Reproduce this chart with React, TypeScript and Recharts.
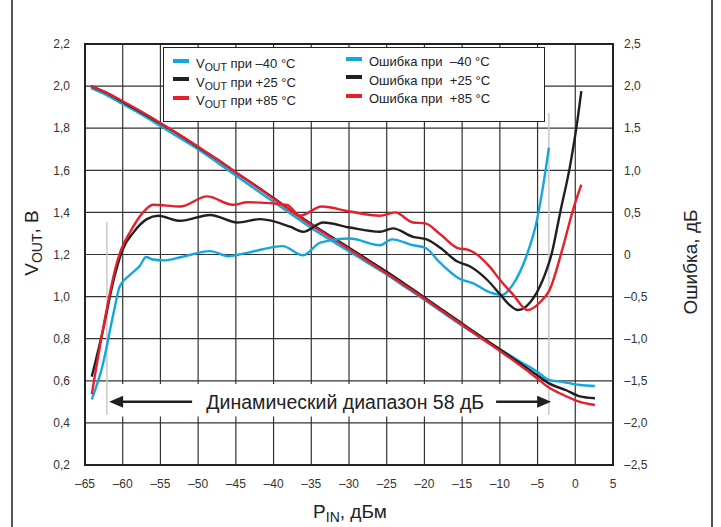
import React from 'react';
import {
  LineChart,
  Line,
  XAxis,
  YAxis,
  CartesianGrid,
  Legend,
  ReferenceLine,
  ReferenceArea,
  ReferenceDot,
} from 'recharts';

type Pt = [number, number];

const xTicks = [-65, -60, -55, -50, -45, -40, -35, -30, -25, -20, -15, -10, -5, 0, 5];
const voutTicks = [0.2, 0.4, 0.6, 0.8, 1.0, 1.2, 1.4, 1.6, 1.8, 2.0, 2.2];
const errTicks = [-2.5, -2.0, -1.5, -1.0, -0.5, 0, 0.5, 1.0, 1.5, 2.0, 2.5];

// V_OUT, В  (PIN дБм, V)
const voutM40: Pt[] = [
  [-64.2, 1.99], [-62, 1.955], [-60, 1.915], [-57.5, 1.865], [-55, 1.81], [-52.5, 1.755],
  [-50, 1.7], [-47.5, 1.638], [-45, 1.575], [-42.5, 1.512], [-40, 1.45], [-37.5, 1.388],
  [-35, 1.326], [-32.5, 1.27], [-30, 1.215], [-27.5, 1.16], [-25, 1.105], [-22.5, 1.045],
  [-20, 0.985], [-17.5, 0.923], [-15, 0.862], [-12.5, 0.805], [-10, 0.75], [-7.5, 0.695],
  [-5, 0.642], [-3.6, 0.606], [-1.6, 0.594], [0.6, 0.58], [2.6, 0.575],
];
const voutP25: Pt[] = [
  [-64.2, 2.0], [-62, 1.965], [-60, 1.925], [-57.5, 1.875], [-55, 1.822], [-52.5, 1.768],
  [-50, 1.71], [-47.5, 1.652], [-45, 1.59], [-42.5, 1.53], [-40, 1.468], [-37.5, 1.405],
  [-35, 1.345], [-32.5, 1.288], [-30, 1.232], [-27.5, 1.175], [-25, 1.118], [-22.5, 1.058],
  [-20, 0.996], [-17.5, 0.934], [-15, 0.872], [-12.5, 0.81], [-10, 0.75], [-7.5, 0.688],
  [-5, 0.625], [-3.6, 0.59], [-1.2, 0.555], [0.6, 0.526], [2.6, 0.517],
];
const voutP85: Pt[] = [
  [-64.2, 2.0], [-62, 1.967], [-60, 1.928], [-57.5, 1.878], [-55, 1.825], [-52.5, 1.77],
  [-50, 1.712], [-47.5, 1.652], [-45, 1.59], [-42.5, 1.528], [-40, 1.465], [-37.5, 1.402],
  [-35, 1.34], [-32.5, 1.283], [-30, 1.226], [-27.5, 1.168], [-25, 1.11], [-22.5, 1.05],
  [-20, 0.99], [-17.5, 0.928], [-15, 0.866], [-12.5, 0.803], [-10, 0.742], [-7.5, 0.678],
  [-5, 0.61], [-3.6, 0.57], [-1.6, 0.533], [0.6, 0.5], [2.6, 0.485],
];

// Ошибка, дБ
const errM40: Pt[] = [
  [-64.1, -1.72], [-62.7, -1.33], [-61.2, -0.69], [-60.4, -0.38], [-59.0, -0.24], [-57.7, -0.13],
  [-56.9, -0.03], [-56.0, -0.06], [-54.6, -0.07], [-52.2, -0.03], [-48.4, 0.04], [-46.0, -0.02],
  [-43.5, 0.02], [-38.8, 0.1], [-36.1, -0.01], [-33.8, 0.14], [-29.9, 0.19], [-25.9, 0.11],
  [-24.3, 0.18], [-21.5, 0.11], [-19.9, 0.08], [-17.9, -0.1], [-15.3, -0.29], [-13.6, -0.34],
  [-11.3, -0.45], [-9.7, -0.48], [-8.3, -0.36], [-6.4, 0.0], [-5.1, 0.4], [-4.2, 0.85], [-3.5, 1.27],
];
const errP25: Pt[] = [
  [-64.1, -1.45], [-62.6, -0.89], [-61.2, -0.3], [-60.0, 0.06], [-58.6, 0.26], [-56.8, 0.42],
  [-55.3, 0.46], [-52.4, 0.4], [-48.4, 0.47], [-44.8, 0.38], [-41.8, 0.42], [-37.8, 0.33],
  [-36.1, 0.27], [-33.4, 0.38], [-29.9, 0.32], [-25.9, 0.27], [-24.2, 0.31], [-21.5, 0.21],
  [-19.7, 0.18], [-17.9, 0.08], [-15.7, -0.08], [-14.0, -0.14], [-11.7, -0.3], [-10.0, -0.47],
  [-8.7, -0.6], [-7.6, -0.66], [-6.0, -0.57], [-4.3, -0.3], [-3.1, 0.02], [-2.0, 0.5],
  [-0.7, 1.05], [0.3, 1.6], [0.8, 1.94],
];
const errP85: Pt[] = [
  [-64.1, -1.66], [-62.2, -0.69], [-60.9, -0.14], [-60.2, 0.06], [-59.0, 0.27], [-57.3, 0.5],
  [-56.0, 0.59], [-52.4, 0.57], [-48.8, 0.69], [-45.4, 0.59], [-43.5, 0.62], [-38.2, 0.59],
  [-36.5, 0.46], [-33.6, 0.57], [-29.9, 0.51], [-25.9, 0.46], [-23.9, 0.5], [-21.5, 0.38],
  [-19.9, 0.37], [-17.9, 0.24], [-15.7, 0.08], [-14.0, 0.05], [-11.3, -0.15], [-10.0, -0.3],
  [-8.3, -0.47], [-6.3, -0.66], [-4.7, -0.57], [-3.4, -0.42], [-1.6, 0.1], [-0.3, 0.53], [0.8, 0.83],
];

const BLUE = '#14a6de';
const BLACK = '#231f20';
const RED = '#e5202b';
const FONT = '"Liberation Sans", Arial, sans-serif';

const rows = (pts: Pt[]) => pts.map(([x, y]) => ({ x, y }));

const voutSeries = [
  { id: 'v40', temp: '–40 °C', color: BLUE, data: rows(voutM40) },
  { id: 'v25', temp: '+25 °C', color: BLACK, data: rows(voutP25) },
  { id: 'v85', temp: '+85 °C', color: RED, data: rows(voutP85) },
];
const errSeries = [
  { id: 'e40', temp: '–40 °C', color: BLUE, data: rows(errM40) },
  { id: 'e25', temp: '+25 °C', color: BLACK, data: rows(errP25) },
  { id: 'e85', temp: '+85 °C', color: RED, data: rows(errP85) },
];

const dash = (v: number) => (v < 0 ? '–' : '');
const fmtX = (v: number) => `${dash(v)}${Math.abs(v)}`;
const fmtV = (v: number) => v.toFixed(1).replace('.', ',');
const fmtErr = (v: number) => (v === 0 ? '0' : `${dash(v)}${Math.abs(v).toFixed(1).replace('.', ',')}`);

const tickStyle = { fontSize: 12, fill: '#333', fontFamily: FONT };

const Swatch = ({ color }: { color: string }) => (
  <span style={{ display: 'inline-block', width: 16, height: 4, background: color, marginRight: 7, verticalAlign: 'middle', position: 'relative', top: -4 }} />
);

const LegendBox = () => (
  <div
    style={{
      width: 382,
      height: 75,
      boxSizing: 'border-box',
      border: '1.5px solid #222',
      background: '#fff',
      fontFamily: FONT,
      fontSize: 13,
      color: '#222',
      position: 'relative',
    }}
  >
    {voutSeries.map((s, i) => (
      <div key={s.id} style={{ position: 'absolute', left: 9, top: 8 + i * 18.5, whiteSpace: 'pre', lineHeight: '16px' }}>
        <Swatch color={s.color} />
        V<sub style={{ fontSize: 10.5, verticalAlign: -3 }}>OUT</sub> при {s.temp}
      </div>
    ))}
    {errSeries.map((s, i) => (
      <div key={s.id} style={{ position: 'absolute', left: 182, top: 6 + i * 18.5, whiteSpace: 'pre', lineHeight: '16px' }}>
        <Swatch color={s.color} />
        {`Ошибка при  ${s.temp}`}
      </div>
    ))}
  </div>
);

const arrowHead = (dir: number) => (p: any) => {
  const { cx, cy } = p;
  const len = 14;
  const half = 6;
  return (
    <polygon
      points={`${cx},${cy} ${cx - dir * len},${cy - half} ${cx - dir * len},${cy + half}`}
      fill={BLACK}
    />
  );
};

const rangeText = (p: any) => (
  <text x={p.cx} y={p.cy + 7} textAnchor="middle" fontFamily={FONT} fontSize={19.5} fill="#222">
    Динамический диапазон 58 дБ
  </text>
);

const leftLabel = () => (
  <text x={38} y={243} transform="rotate(-90 38 243)" textAnchor="middle" fontFamily={FONT} fontSize={19} fill="#222">
    V<tspan fontSize={14} dy={4}>OUT</tspan>
    <tspan dy={-4}>, В</tspan>
  </text>
);

const rightLabel = () => (
  <text x={697} y={262} transform="rotate(-90 697 262)" textAnchor="middle" fontFamily={FONT} fontSize={19} fill="#222">
    Ошибка, дБ
  </text>
);

const bottomLabel = () => (
  <text x={350} y={518} textAnchor="middle" fontFamily={FONT} fontSize={19} fill="#222">
    P<tspan fontSize={14} dy={4}>IN</tspan>
    <tspan dy={-4}>, дБм</tspan>
  </text>
);

export default function App() {
  return (
    <div style={{ position: 'absolute', left: 0, top: 0, width: 721, height: 527, background: '#fff' }}>
      <div style={{ position: 'absolute', left: 11, top: 0, width: 1.5, height: 527, background: '#555' }} />
      <div style={{ position: 'absolute', left: 711, top: 0, width: 1.5, height: 527, background: '#555' }} />
      <LineChart width={721} height={527} margin={{ top: 44, right: 63, bottom: 32, left: 40 }}>
        <CartesianGrid yAxisId="left" stroke="#333" strokeWidth={1.2} />
        <XAxis
          dataKey="x"
          type="number"
          domain={[-65, 5]}
          ticks={xTicks}
          tickFormatter={fmtX}
          tick={tickStyle}
          tickLine={false}
          axisLine={false}
          tickSize={0}
          tickMargin={14}
          height={30}
          allowDataOverflow
          label={{ content: bottomLabel }}
        />
        <YAxis
          yAxisId="left"
          type="number"
          domain={[0.2, 2.2]}
          ticks={voutTicks}
          tickFormatter={fmtV}
          tick={tickStyle}
          tickLine={false}
          axisLine={false}
          tickSize={0}
          tickMargin={15}
          width={45}
          label={{ content: leftLabel }}
        />
        <YAxis
          yAxisId="right"
          orientation="right"
          type="number"
          domain={[-2.5, 2.5]}
          ticks={errTicks}
          tickFormatter={fmtErr}
          tick={{ ...tickStyle, textAnchor: 'start' }}
          tickLine={false}
          axisLine={false}
          tickSize={0}
          tickMargin={11}
          width={45}
          label={{ content: rightLabel }}
        />
        <ReferenceArea yAxisId="left" x1={-62.4} x2={-2.9} y1={0.43} y2={0.585} fill="#fff" fillOpacity={1} stroke="none" />
        <ReferenceLine yAxisId="left" segment={[{ x: -62.1, y: 1.354 }, { x: -62.1, y: 0.438 }]} stroke="#c9c9c9" strokeWidth={1.5} />
        <ReferenceLine yAxisId="left" segment={[{ x: -3.5, y: 1.872 }, { x: -3.5, y: 0.438 }]} stroke="#c9c9c9" strokeWidth={1.5} />
        <ReferenceLine yAxisId="left" segment={[{ x: -60.2, y: 0.5 }, { x: -50.8, y: 0.5 }]} stroke={BLACK} strokeWidth={2.5} />
        <ReferenceLine yAxisId="left" segment={[{ x: -10.5, y: 0.5 }, { x: -5.0, y: 0.5 }]} stroke={BLACK} strokeWidth={2.5} />
        <ReferenceDot yAxisId="left" x={-61.8} y={0.5} r={1} shape={arrowHead(-1)} />
        <ReferenceDot yAxisId="left" x={-3.2} y={0.5} r={1} shape={arrowHead(1)} />
        <ReferenceDot yAxisId="left" x={-30.5} y={0.5} r={1} shape={rangeText} />
        {voutSeries.map((s) => (
          <Line
            key={s.id}
            yAxisId="left"
            data={s.data}
            dataKey="y"
            type="monotone"
            stroke={s.color}
            strokeWidth={2.4}
            dot={false}
            isAnimationActive={false}
          />
        ))}
        {errSeries.map((s) => (
          <Line
            key={s.id}
            yAxisId="right"
            data={s.data}
            dataKey="y"
            type="monotone"
            stroke={s.color}
            strokeWidth={2.4}
            dot={false}
            isAnimationActive={false}
          />
        ))}
        <ReferenceArea
          yAxisId="left"
          x1={-65}
          x2={5}
          y1={0.2}
          y2={2.2}
          fill="none"
          stroke="#222"
          strokeWidth={2}
          ifOverflow="visible"
        />
        <Legend
          layout="horizontal"
          verticalAlign="middle"
          align="center"
          content={LegendBox}
          wrapperStyle={{ position: 'absolute', left: 163, top: 47, width: 382, height: 75 }}
        />
      </LineChart>
    </div>
  );
}
